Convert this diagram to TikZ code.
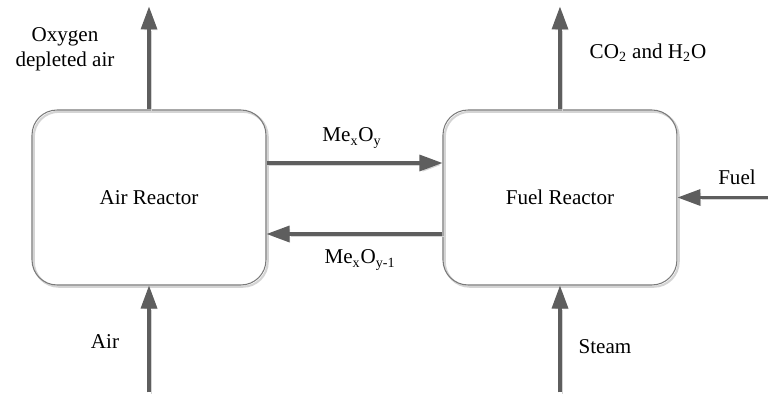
\documentclass[tikz,border=0pt]{standalone}
\usepackage{fontspec}
\setmainfont{Liberation Serif}
\usepackage{tikz}
\usetikzlibrary{arrows.meta,positioning}
\definecolor{flowgray}{HTML}{5E5E5E}
\definecolor{shadegray}{HTML}{D4D4D4}
\definecolor{boxgray}{HTML}{7A7A7A}
\tikzset{
  reactor/.style={draw=boxgray, line width=0.6pt, rounded corners=0.5cm, minimum width=4.68cm, minimum height=3.5cm, align=center,
    preaction={draw=shadegray, line width=1.2pt, transform canvas={xshift=1pt,yshift=-1pt}}},
  flow/.style={draw=flowgray, line width=1.8pt, -{Triangle[length=4.6mm,width=3.2mm]},
    preaction={draw=shadegray, transform canvas={xshift=1.1pt,yshift=-1.1pt}}},
  lbl/.style={align=center, inner sep=1pt, font=\fontsize{12}{14}\selectfont}
}

\begin{document}
\begin{tikzpicture}[x=0.02cm, y=-0.02cm]
  \useasboundingbox (0,0) rectangle (768,394);
  \node[reactor, lbl] (air) at (149,197.5) {Air Reactor};
  \node[reactor, lbl, right=3.52cm of air] (fuel) {Fuel Reactor};

  \coordinate[above=2.06cm of air] (airout);
  \coordinate[above=2.06cm of fuel] (fuelout);
  \coordinate[below=2.14cm of air] (airin);
  \coordinate[below=2.14cm of fuel] (steamin);
  \coordinate[right=1.86cm of fuel] (fuelin);

  \draw[flow] (air) -- (airout);
  \draw[flow] (fuel) -- (fuelout);
  \draw[flow] (airin) -- (air);
  \draw[flow] (steamin) -- (fuel);
  \draw[flow] (fuelin) -- (fuel);
  \draw[flow] ([yshift=0.69cm]air.east) -- ([yshift=0.69cm]fuel.west);
  \draw[flow] ([yshift=-0.73cm]fuel.west) -- ([yshift=-0.73cm]air.east);

  \node[lbl] (depleted) at (65,49) {Oxygen\\depleted air};
  \node[lbl] (products) at (648,53) {CO\textsubscript{2} and H\textsubscript{2}O};
  \node[lbl] (oxide) at (352,138) {Me\textsubscript{x}O\textsubscript{y}};
  \node[lbl] (reduced) at (360,260) {Me\textsubscript{x}O\textsubscript{y-1}};
  \node[lbl] (fuellbl) at (737,177) {Fuel};
  \node[lbl] (airlbl) at (105,342) {Air};
  \node[lbl] (steamlbl) at (605,347) {Steam};
\end{tikzpicture}
\end{document}
